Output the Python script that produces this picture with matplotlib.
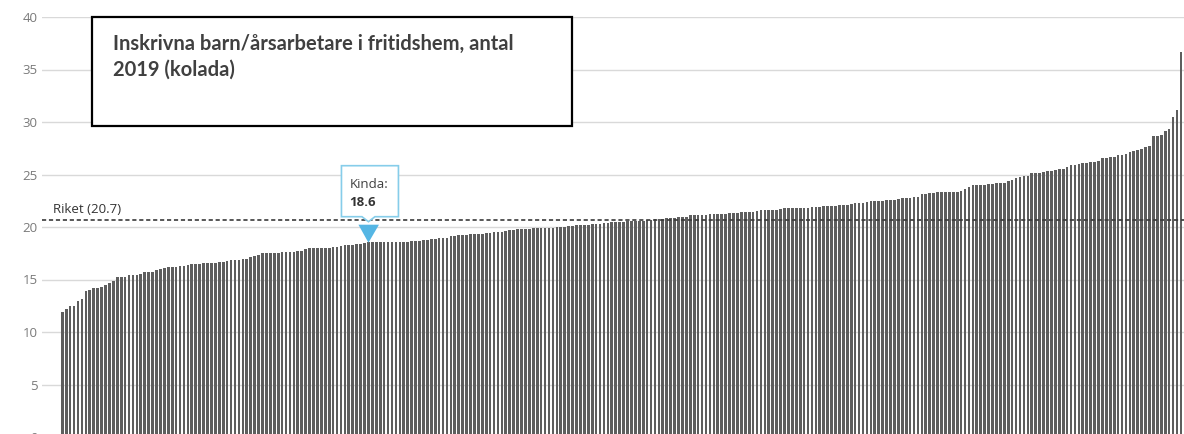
import matplotlib
matplotlib.use("Agg")
import matplotlib.pyplot as plt
from matplotlib.patches import Rectangle, Polygon
from matplotlib.transforms import IdentityTransform
import numpy as np

plt.rcParams['lines.scale_dashes'] = False

values = [
    11.9, 12.2, 12.5, 12.5, 13.0, 13.1, 13.9, 14.0, 14.2, 14.2,
    14.3, 14.5, 14.7, 14.9, 15.2, 15.2, 15.2, 15.4, 15.4, 15.4,
    15.5, 15.7, 15.7, 15.7, 15.9, 16.0, 16.1, 16.2, 16.2, 16.2,
    16.3, 16.3, 16.4, 16.5, 16.5, 16.5, 16.6, 16.6, 16.6, 16.6,
    16.7, 16.7, 16.8, 16.9, 16.9, 16.9, 17.0, 17.0, 17.1, 17.2,
    17.3, 17.5, 17.5, 17.5, 17.5, 17.5, 17.6, 17.6, 17.6, 17.6,
    17.7, 17.7, 17.9, 18.0, 18.0, 18.0, 18.0, 18.0, 18.0, 18.1,
    18.1, 18.2, 18.3, 18.3, 18.3, 18.4, 18.4, 18.5, 18.6, 18.6,
    18.6, 18.6, 18.6, 18.6, 18.6, 18.6, 18.6, 18.6, 18.6, 18.7,
    18.7, 18.7, 18.8, 18.8, 18.9, 18.9, 19.0, 19.0, 19.0, 19.1,
    19.1, 19.2, 19.2, 19.2, 19.3, 19.3, 19.3, 19.3, 19.4, 19.4,
    19.5, 19.5, 19.5, 19.6, 19.7, 19.7, 19.8, 19.8, 19.8, 19.8,
    19.9, 19.9, 19.9, 19.9, 19.9, 19.9, 20.0, 20.0, 20.0, 20.1,
    20.1, 20.2, 20.2, 20.2, 20.2, 20.3, 20.3, 20.3, 20.4, 20.4,
    20.5, 20.5, 20.5, 20.5, 20.6, 20.6, 20.6, 20.6, 20.6, 20.7,
    20.7, 20.8, 20.8, 20.8, 20.9, 20.9, 20.9, 21.0, 21.0, 21.0,
    21.1, 21.1, 21.1, 21.1, 21.1, 21.2, 21.2, 21.2, 21.2, 21.2,
    21.3, 21.3, 21.3, 21.4, 21.4, 21.4, 21.4, 21.5, 21.6, 21.6,
    21.6, 21.6, 21.6, 21.7, 21.8, 21.8, 21.8, 21.8, 21.8, 21.8,
    21.8, 21.9, 21.9, 21.9, 22.0, 22.0, 22.0, 22.0, 22.1, 22.1,
    22.1, 22.2, 22.3, 22.3, 22.3, 22.4, 22.5, 22.5, 22.5, 22.5,
    22.6, 22.6, 22.6, 22.7, 22.8, 22.8, 22.8, 22.9, 22.9, 23.1,
    23.1, 23.2, 23.2, 23.3, 23.3, 23.3, 23.3, 23.3, 23.3, 23.4,
    23.6, 23.8, 24.0, 24.0, 24.0, 24.0, 24.1, 24.1, 24.2, 24.2,
    24.2, 24.4, 24.5, 24.7, 24.8, 24.9, 24.9, 25.1, 25.1, 25.1,
    25.2, 25.3, 25.3, 25.4, 25.5, 25.5, 25.7, 25.9, 25.9, 26.0,
    26.1, 26.1, 26.2, 26.2, 26.3, 26.6, 26.6, 26.7, 26.7, 26.9,
    26.9, 27.0, 27.1, 27.2, 27.3, 27.4, 27.6, 27.7, 28.7, 28.7,
    28.8, 29.1, 29.3, 30.5, 31.1, 36.7,
]
riket = 20.7
riket_label = "Riket (20.7)"
highlight_index = 78
highlight_name = "Kinda"
highlight_value = 18.6
title_lines = ["Inskrivna barn/årsarbetare i fritidshem, antal", "2019 (kolada)"]
yticks = [0, 5, 10, 15, 20, 25, 30, 35, 40]

W, H = 1184, 434
fig = plt.figure(figsize=(W / 100, H / 100), dpi=100)
fig.patch.set_facecolor('white')

# axes in pixel layout
ax_left, ax_right, ax_top, ax_bottom = 42, 1186, 17, 437
ax = fig.add_axes([ax_left / W, (H - ax_bottom) / H,
                   (ax_right - ax_left) / W, (ax_bottom - ax_top) / H])

x = np.arange(len(values))
c0, pitch = 62.3, 3.925
ax.set_xlim((ax_left - c0) / pitch, (ax_right - c0) / pitch)
ax.set_ylim(0, 40)

ax.bar(x, values, width=0.68, color='#5e5e5e', linewidth=0, zorder=2)

ax.set_yticks(yticks)
ax.set_yticklabels([str(t) for t in yticks], color='#7a7a7a',
                   fontsize=9.5, family='Open Sans')
ax.tick_params(axis='y', length=0, pad=3)
ax.tick_params(axis='x', bottom=False, labelbottom=False)
for s in ax.spines.values():
    s.set_visible(False)
ax.yaxis.grid(True, color='#d9d9d9', linewidth=1.0, zorder=0)
ax.set_axisbelow(True)

ax.axhline(riket, color='#3a3a3a', linewidth=1.2, dashes=(3, 2), zorder=3)
ax.annotate(riket_label, xy=(0.0096, riket), xycoords=('axes fraction', 'data'),
            xytext=(0, 2.5), textcoords='offset points', ha='left', va='bottom',
            fontsize=9.5, color='#333333', family='Open Sans', zorder=4)

# Title box (figure pixel layout)
tb_l, tb_r, tb_t, tb_b = 92, 572, 16.5, 126
fig.patches.append(Rectangle((tb_l / W, (H - tb_b) / H), (tb_r - tb_l) / W, (tb_b - tb_t) / H,
                             transform=fig.transFigure, facecolor='white',
                             edgecolor='black', linewidth=1.6, zorder=5))
fig.text(113 / W, (H - 50) / H, title_lines[0], fontsize=14.5, fontweight='bold',
         color='#404040', family='Lato', ha='left', va='baseline', zorder=6)
fig.text(113 / W, (H - 76) / H, title_lines[1], fontsize=14.5, fontweight='bold',
         color='#404040', family='Lato', ha='left', va='baseline', zorder=6)

# Callout for highlighted bar
fig.canvas.draw()
px, py = ax.transData.transform((highlight_index, highlight_value))

def P(dx, dy_up):
    return (px + dx, py + dy_up)

tri = Polygon([P(-10, 17), P(10.5, 17), P(0, -1)], closed=True,
              transform=IdentityTransform(), facecolor='#55b6e4',
              edgecolor='none', zorder=7)
fig.patches.append(tri)
box = Polygon([P(-27, 76), P(30, 76), P(30, 25), P(6.5, 25), P(0, 20),
               P(-6.5, 25), P(-27, 25)], closed=True,
              transform=IdentityTransform(), facecolor='white',
              edgecolor='#86cdea', linewidth=1.2, zorder=7)
fig.patches.append(box)
fig.text((px - 19) / W, (py + 54) / H, highlight_name + ":", transform=fig.transFigure,
         fontsize=9.5, color='#404040', family='Open Sans', ha='left',
         va='baseline', zorder=8)
fig.text((px - 19) / W, (py + 36) / H, f"{highlight_value}", transform=fig.transFigure,
         fontsize=9.5, color='#333333', family='Open Sans', fontweight='bold',
         ha='left', va='baseline', zorder=8)

fig.savefig('out.png', dpi=100, facecolor='white')
